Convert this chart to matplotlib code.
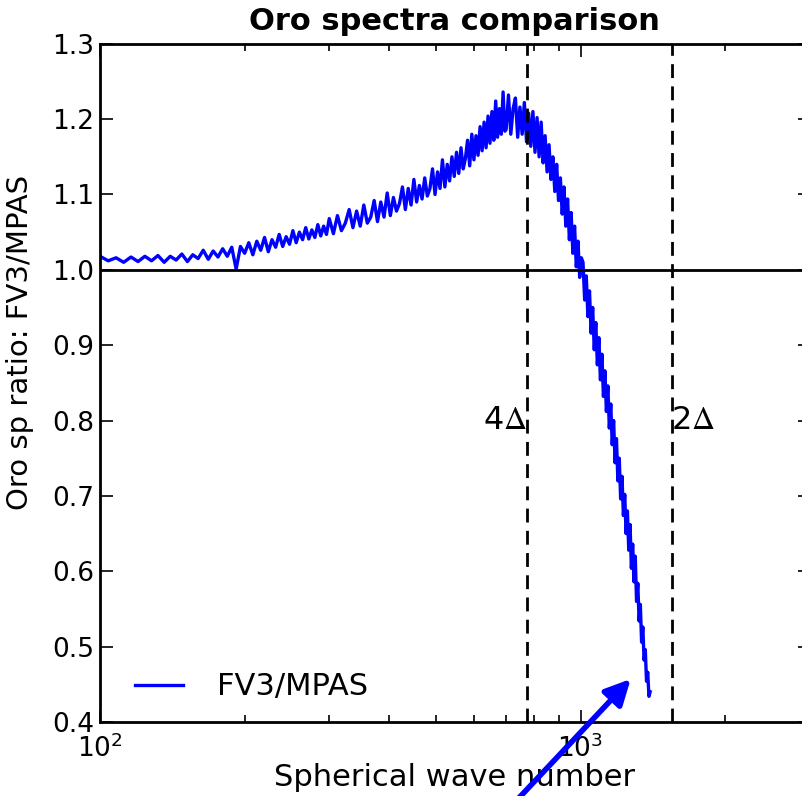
import numpy as np
import matplotlib
matplotlib.use('Agg')
import matplotlib.pyplot as plt

# wavenumber segments (sampled from the plot at different spacing)
k1 = np.arange(100, 300, 4)
k2 = np.arange(300, 700, 6)
k3 = np.arange(700, 1400, 8)

r1 = [1.018, 1.012, 1.016, 1.010, 1.017, 1.011, 1.018, 1.012, 1.019, 1.010,
      1.018, 1.013, 1.021, 1.011, 1.020, 1.015, 1.026, 1.014, 1.025, 1.017,
      1.028, 1.018, 1.030, 1.001, 1.031, 1.022, 1.036, 1.020, 1.038, 1.026,
      1.043, 1.024, 1.040, 1.030, 1.047, 1.031, 1.044, 1.034, 1.052, 1.036,
      1.050, 1.040, 1.056, 1.041, 1.053, 1.043, 1.060, 1.045, 1.058, 1.047]
r2 = [1.068, 1.048, 1.072, 1.052, 1.062, 1.080, 1.056, 1.078, 1.058, 1.086,
      1.062, 1.070, 1.092, 1.064, 1.090, 1.070, 1.102, 1.072, 1.096, 1.078,
      1.088, 1.110, 1.080, 1.108, 1.086, 1.120, 1.090, 1.112, 1.094, 1.122,
      1.098, 1.108, 1.134, 1.100, 1.130, 1.108, 1.146, 1.110, 1.140, 1.118,
      1.150, 1.124, 1.156, 1.128, 1.162, 1.134, 1.148, 1.172, 1.138, 1.180,
      1.146, 1.178, 1.152, 1.190, 1.158, 1.196, 1.162, 1.204, 1.168, 1.210,
      1.172, 1.224, 1.176, 1.214, 1.180, 1.236, 1.184]
r3 = [1.186, 1.232, 1.180, 1.214, 1.228, 1.176, 1.216, 1.180, 1.222, 1.170,
      1.208, 1.164, 1.210, 1.156, 1.202, 1.150, 1.196, 1.142, 1.178, 1.130,
      1.166, 1.120, 1.150, 1.104, 1.140, 1.092, 1.122, 1.074, 1.110, 1.058,
      1.094, 1.040, 1.076, 1.022, 1.058, 1.004, 1.038, 0.990, 1.016, 1.010,
      0.960, 0.992, 0.938, 0.972, 0.916, 0.950, 0.894, 0.930, 0.874, 0.910,
      0.854, 0.888, 0.832, 0.866, 0.812, 0.846, 0.790, 0.822, 0.768, 0.800,
      0.744, 0.776, 0.720, 0.750, 0.696, 0.726, 0.674, 0.702, 0.650, 0.680,
      0.628, 0.662, 0.604, 0.636, 0.586, 0.620, 0.560, 0.584, 0.534, 0.556,
      0.506, 0.526, 0.482, 0.496, 0.454, 0.466, 0.434, 0.440]

wavenum = np.concatenate([k1, k2, k3])
ratio = np.array(r1 + r2 + r3)
assert len(wavenum) == len(ratio), (len(k1), len(r1), len(k2), len(r2), len(k3), len(r3))

k_4dx = 775
k_2dx = 1550
arrow_tip = (1272, 0.457)

fig = plt.figure(figsize=(8.02, 7.96), dpi=100)
ax = fig.add_axes([0.1247, 0.093, 0.885, 0.852])

ax.plot(wavenum, ratio, color='#0000ff', lw=2.4, label='FV3/MPAS')
ax.axhline(1.0, color='k', lw=2)
ax.axvline(k_4dx, color='k', lw=2, dashes=(5, 3))
ax.axvline(k_2dx, color='k', lw=2, dashes=(5, 3))
ax.text(k_4dx, 0.80, r'4$\Delta$', fontsize=23, ha='right', va='center',
        math_fontfamily='stix')
ax.text(k_2dx * 0.995, 0.80, r'2$\Delta$', fontsize=23, ha='left', va='center',
        math_fontfamily='stix')

ax.set_xscale('log')
ax.set_xlim(100, 3000)
ax.set_ylim(0.4, 1.3)
ax.set_yticks(np.arange(0.4, 1.31, 0.1))
ax.set_yticklabels(['%.1f' % v for v in np.arange(0.4, 1.31, 0.1)])

ax.tick_params(which='both', direction='in', top=True, right=True, labelsize=19, width=1.2)
ax.tick_params(which='major', length=9, pad=4)
ax.tick_params(which='minor', length=5)
ax.tick_params(axis='x', which='major', pad=9)
for s in ax.spines.values():
    s.set_linewidth(2)

ax.set_title('Oro spectra comparison', fontsize=22, fontweight='bold', pad=10)
ax.set_xlabel('Spherical wave number', fontsize=22, labelpad=0)
ax.set_ylabel('Oro sp ratio: FV3/MPAS', fontsize=21)
ax.yaxis.set_label_coords(-0.093, 0.56)

ax.legend(loc='lower left', frameon=False, fontsize=22, handlelength=1.6,
          handletextpad=1.1, bbox_to_anchor=(0.01, -0.01))

ax.annotate('', xy=arrow_tip, xycoords='data',
            xytext=(0.64, -0.01), textcoords='figure fraction',
            arrowprops=dict(arrowstyle='-|>', color='#0000ff', lw=4,
                            mutation_scale=38, shrinkA=0, shrinkB=0),
            annotation_clip=False)

fig.savefig('out.png', dpi=100, facecolor='white')
